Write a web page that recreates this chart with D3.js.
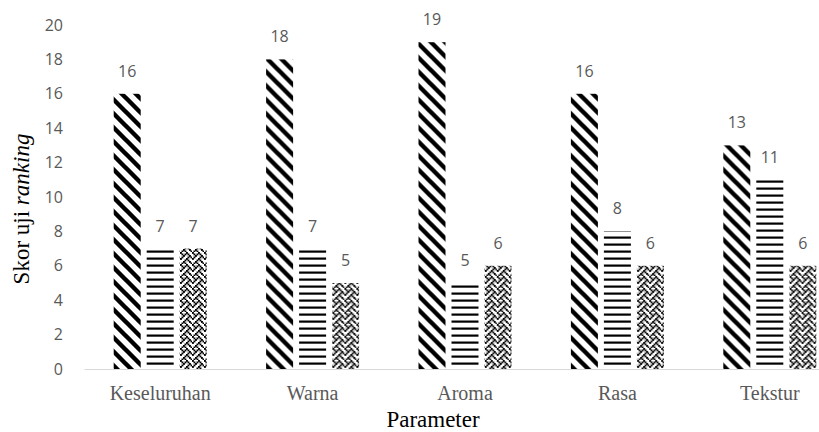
<!DOCTYPE html>
<html>
<head>
<meta charset="utf-8">
<script src="https://cdn.jsdelivr.net/npm/d3@7"></script>
<style>
  html, body { margin: 0; padding: 0; background: #fff; overflow: hidden; }
  svg { display: block; }
</style>
</head>
<body>
<svg id="chart" width="819" height="432"></svg>
<script>
// Ranking test scores per parameter, three samples each
const categories = ["Keseluruhan", "Warna", "Aroma", "Rasa", "Tekstur"];
const seriesNames = ["Sampel 1", "Sampel 2", "Sampel 3"];
const sample1 = [16, 18, 19, 16, 13];
const sample2 = [7, 7, 5, 8, 11];
const sample3 = [7, 5, 6, 6, 6];
const yTicks = [0, 2, 4, 6, 8, 10, 12, 14, 16, 18, 20];

const svg = d3.select("#chart");

const x0 = d3.scaleBand().domain(categories).range([84, 846]).paddingInner(0).paddingOuter(0);
const x1 = d3.scaleBand().domain(seriesNames).range([0, x0.bandwidth()]).paddingInner(0.182).paddingOuter(0.9);
const y = d3.scaleLinear().domain([0, 20]).range([369, 25]);

// Fill patterns
const defs = svg.append("defs");

// wide downward diagonal
const P = 14;
const pDiag = defs.append("pattern").attr("id", "pDiag")
  .attr("patternUnits", "userSpaceOnUse").attr("width", P).attr("height", P);
pDiag.append("path")
  .attr("d", `M-2,-2 L${P + 2},${P + 2} M${-P - 2},-2 L2,${P + 2} M${P - 2},-2 L${2 * P + 2},${P + 2}`)
  .attr("stroke", "#000").attr("stroke-width", 4.4).attr("fill", "none");

// narrow horizontal lines, aligned to the baseline
const pHor = defs.append("pattern").attr("id", "pHor")
  .attr("patternUnits", "userSpaceOnUse").attr("width", 8).attr("height", 7)
  .attr("y", 369 % 7);
pHor.append("rect").attr("x", 0).attr("y", 0.5).attr("width", 8).attr("height", 2.2).attr("fill", "#000");

// weave
const weaveRows = [
  "10001000",
  "01010100",
  "00100010",
  "01000101",
  "10001000",
  "00010100",
  "00100010",
  "01010001"
];
const cell = 1.5;
const dot = 1.9;
const pWeave = defs.append("pattern").attr("id", "pWeave")
  .attr("patternUnits", "userSpaceOnUse").attr("width", 8 * cell).attr("height", 8 * cell);
weaveRows.forEach((row, r) => {
  row.split("").forEach((c, k) => {
    if (c === "1") {
      pWeave.append("rect").attr("x", k * cell).attr("y", r * cell)
        .attr("width", dot).attr("height", dot).attr("fill", "#000");
    }
  });
});

const fills = ["url(#pDiag)", "url(#pHor)", "url(#pWeave)"];
const seriesValues = [sample1, sample2, sample3];

// Y tick labels (no axis line)
const yAxis = d3.axisLeft(y).tickValues(yTicks).tickSize(0).tickPadding(0);
const gy = svg.append("g").attr("transform", "translate(63,0)").call(yAxis);
gy.select(".domain").remove();
gy.selectAll("text")
  .attr("font-family", "'Open Sans', sans-serif")
  .attr("font-size", 16)
  .attr("fill", "#595959");

// Category axis
const xAxis = d3.axisBottom(x0).tickSize(0).tickPadding(0);
const gx = svg.append("g").attr("transform", "translate(0,369)").call(xAxis);
gx.select(".domain").attr("stroke", "#d9d9d9").attr("stroke-width", 1.2);
gx.selectAll("text")
  .attr("dy", 0).attr("y", 31)
  .attr("font-family", "'Liberation Serif', serif")
  .attr("font-size", 20)
  .attr("fill", "#595959");

// Bars
const groups = svg.append("g").selectAll("g")
  .data(categories)
  .join("g")
  .attr("transform", d => `translate(${x0(d)},0)`);

groups.selectAll("rect")
  .data((d, i) => seriesNames.map((s, j) => ({ s, j, v: seriesValues[j][i] })))
  .join("rect")
  .attr("x", d => x1(d.s))
  .attr("width", x1.bandwidth())
  .attr("y", d => y(d.v))
  .attr("height", d => y(0) - y(d.v))
  .attr("fill", d => fills[d.j]);

// Value labels
groups.selectAll("text.val")
  .data((d, i) => seriesNames.map((s, j) => ({ s, j, v: seriesValues[j][i] })))
  .join("text")
  .attr("class", "val")
  .attr("x", d => x1(d.s) + x1.bandwidth() / 2)
  .attr("y", d => y(d.v) - 17)
  .attr("text-anchor", "middle")
  .attr("font-family", "'Open Sans', sans-serif")
  .attr("font-size", 16)
  .attr("fill", "#595959")
  .text(d => d.v);

// Axis titles
svg.append("text")
  .attr("x", 433).attr("y", 427)
  .attr("text-anchor", "middle")
  .attr("font-family", "'Liberation Serif', serif")
  .attr("font-size", 23)
  .attr("fill", "#000")
  .text("Parameter");

const yTitle = svg.append("text")
  .attr("transform", "translate(29,209) rotate(-90)")
  .attr("text-anchor", "middle")
  .attr("font-family", "'Liberation Serif', serif")
  .attr("font-size", 23)
  .attr("fill", "#000");
yTitle.append("tspan").text("Skor uji ");
yTitle.append("tspan").attr("font-style", "italic").text("ranking");
</script>
</body>
</html>
